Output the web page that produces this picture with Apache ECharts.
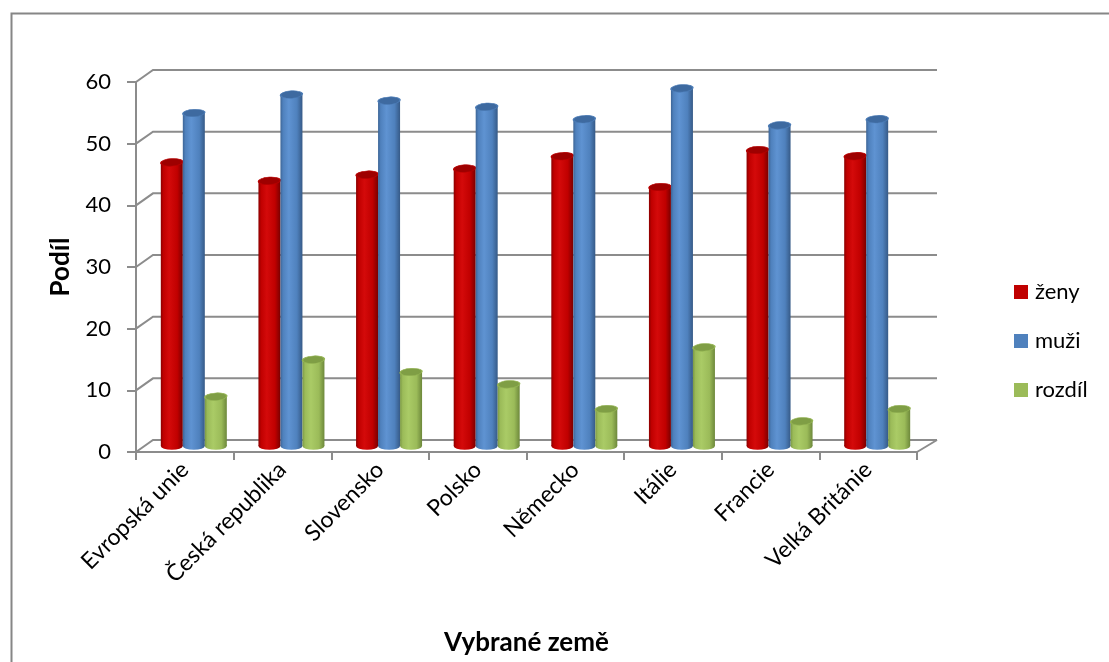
<!DOCTYPE html>
<html>
<head>
<meta charset="utf-8">
<script src="https://cdn.jsdelivr.net/npm/echarts@6/dist/echarts.min.js"></script>
<style>
  html, body { margin: 0; padding: 0; background: #fff; }
  #chart { width: 1109px; height: 662px; }
</style>
</head>
<body>
<div id="chart"></div>
<script>
// Podíl žen a mužů ve vybraných zemích
const categories = ['Evropská unie', 'Česká republika', 'Slovensko', 'Polsko', 'Německo', 'Itálie', 'Francie', 'Velká Británie'];
const zeny = [46, 43, 44, 45, 47, 42, 48, 47];
const muzi = [54, 57, 56, 55, 53, 58, 52, 53];
const rozdil = [8, 14, 12, 10, 6, 16, 4, 6];
const yTicks = [0, 10, 20, 30, 40, 50, 60];

const FONT = 'Lato';
const GRID_COLOR = '#8c8c8c';

// depth of the 3D box (back wall offset) and mid-depth offset where cylinders stand
const BACK_DX = 17, BACK_DY = -12, BACK_DX_RIGHT = 20;
const MID_DX = 9, MID_DY = -6;
const BAR_W = 22;

const palettes = {
  red:   { edgeL: '#8a0000', body: '#c00000', hi: '#d40a0a', edgeR: '#7a0000', top: '#9e0000', rim: '#b80000' },
  blue:  { edgeL: '#3d6596', body: '#4f81bd', hi: '#5f93d2', edgeR: '#365a87', top: '#3e6aa0', rim: '#4c7cb6' },
  green: { edgeL: '#7b9945', body: '#9bbb59', hi: '#aacb66', edgeR: '#6d883b', top: '#7f9e45', rim: '#94b453' }
};

function bodyGradient(p) {
  return new echarts.graphic.LinearGradient(0, 0, 1, 0, [
    { offset: 0, color: p.edgeL },
    { offset: 0.12, color: p.body },
    { offset: 0.38, color: p.hi },
    { offset: 0.75, color: p.body },
    { offset: 1, color: p.edgeR }
  ]);
}

function cylinderRenderer(shift, p) {
  return function (params, api) {
    const idx = api.value(0);
    const v = api.value(1);
    const base = api.coord([idx, 0]);
    const top = api.coord([idx, v]);
    const cx = base[0] + shift + MID_DX;
    const yb = base[1] + MID_DY;
    const yt = top[1] + MID_DY;
    const r = BAR_W / 2;
    const sy = 0.34;
    return {
      type: 'group',
      children: [
        { type: 'circle', x: cx, y: yb, scaleY: sy, shape: { cx: 0, cy: 0, r: r }, style: { fill: bodyGradient(p) } },
        { type: 'rect', shape: { x: cx - r, y: yt, width: BAR_W, height: yb - yt }, style: { fill: bodyGradient(p) } },
        { type: 'circle', x: cx, y: yt, scaleY: sy, rotation: 0.06, shape: { cx: 0, cy: 0, r: r }, style: { fill: p.top, stroke: p.rim, lineWidth: 1.5 } }
      ]
    };
  };
}

// back wall gridlines, side connectors and floor edge
function wallRenderer(params, api) {
  const cs = params.coordSys;
  const v = api.value(1);
  const y = api.coord([0, v])[1];
  const x0 = cs.x, x1 = cs.x + cs.width;
  const children = [{
    type: 'polyline',
    shape: { points: [[x0, y], [x0 + BACK_DX, y + BACK_DY], [x1 + BACK_DX_RIGHT, y + BACK_DY]] },
    style: { stroke: GRID_COLOR, lineWidth: 2, fill: null }
  }];
  if (v === 0) {
    children.push({
      type: 'line',
      shape: { x1: x1, y1: y, x2: x1 + BACK_DX_RIGHT, y2: y + BACK_DY },
      style: { stroke: GRID_COLOR, lineWidth: 2 }
    });
  }
  return { type: 'group', children: children };
}

const chart = echarts.init(document.getElementById('chart'), null, { renderer: 'canvas' });

chart.setOption({
  backgroundColor: '#fff',
  animation: false,
  textStyle: { fontFamily: FONT },
  graphic: [{
    type: 'rect', left: 9, top: 11,
    shape: { x: 0, y: 0, width: 1200, height: 1000 },
    style: { fill: null, stroke: '#868686', lineWidth: 2 }
  }],
  grid: { left: 136, top: 82, width: 781, height: 370, containLabel: false },
  legend: {
    orient: 'vertical',
    left: 1009, top: 276,
    itemWidth: 14, itemHeight: 14, itemGap: 27,
    icon: 'rect',
    textStyle: { fontFamily: FONT, fontSize: 22, color: '#000', padding: [0, 0, 0, 2] },
    data: ['ženy', 'muži', 'rozdíl']
  },
  xAxis: {
    type: 'category',
    data: categories,
    boundaryGap: true,
    name: 'Vybrané země',
    nameLocation: 'middle',
    nameGap: 178,
    nameTextStyle: { fontFamily: FONT, fontSize: 26, fontWeight: 'bold', color: '#000' },
    axisLine: { lineStyle: { color: GRID_COLOR, width: 2 } },
    axisTick: { show: true, length: 8, lineStyle: { color: GRID_COLOR, width: 2 } },
    axisLabel: { rotate: 45, margin: 14, fontFamily: FONT, fontSize: 23, color: '#000', interval: 0 },
    splitLine: { show: false }
  },
  yAxis: {
    type: 'value',
    min: 0, max: 60, interval: 10,
    name: 'Podíl',
    nameLocation: 'middle',
    nameRotate: 90,
    nameGap: 62,
    nameTextStyle: { fontFamily: FONT, fontSize: 26, fontWeight: 'bold', color: '#000' },
    axisLine: { show: true, lineStyle: { color: GRID_COLOR, width: 2 } },
    axisTick: { show: true, length: 9, lineStyle: { color: GRID_COLOR, width: 2 } },
    axisLabel: { margin: 25, fontFamily: FONT, fontSize: 22, color: '#000' },
    splitLine: { show: false }
  },
  series: [
    {
      name: 'wall', type: 'custom', silent: true, z: 1,
      data: yTicks.map(function (t) { return [0, t]; }),
      encode: { x: 0, y: 1 },
      renderItem: wallRenderer
    },
    {
      name: 'ženy', type: 'custom', z: 3,
      itemStyle: { color: '#c00000' },
      data: zeny.map(function (v, i) { return [i, v]; }),
      encode: { x: 0, y: 1 },
      renderItem: cylinderRenderer(-BAR_W, palettes.red)
    },
    {
      name: 'muži', type: 'custom', z: 3,
      itemStyle: { color: '#4f81bd' },
      data: muzi.map(function (v, i) { return [i, v]; }),
      encode: { x: 0, y: 1 },
      renderItem: cylinderRenderer(0, palettes.blue)
    },
    {
      name: 'rozdíl', type: 'custom', z: 3,
      itemStyle: { color: '#9bbb59' },
      data: rozdil.map(function (v, i) { return [i, v]; }),
      encode: { x: 0, y: 1 },
      renderItem: cylinderRenderer(BAR_W, palettes.green)
    }
  ]
});
</script>
</body>
</html>
